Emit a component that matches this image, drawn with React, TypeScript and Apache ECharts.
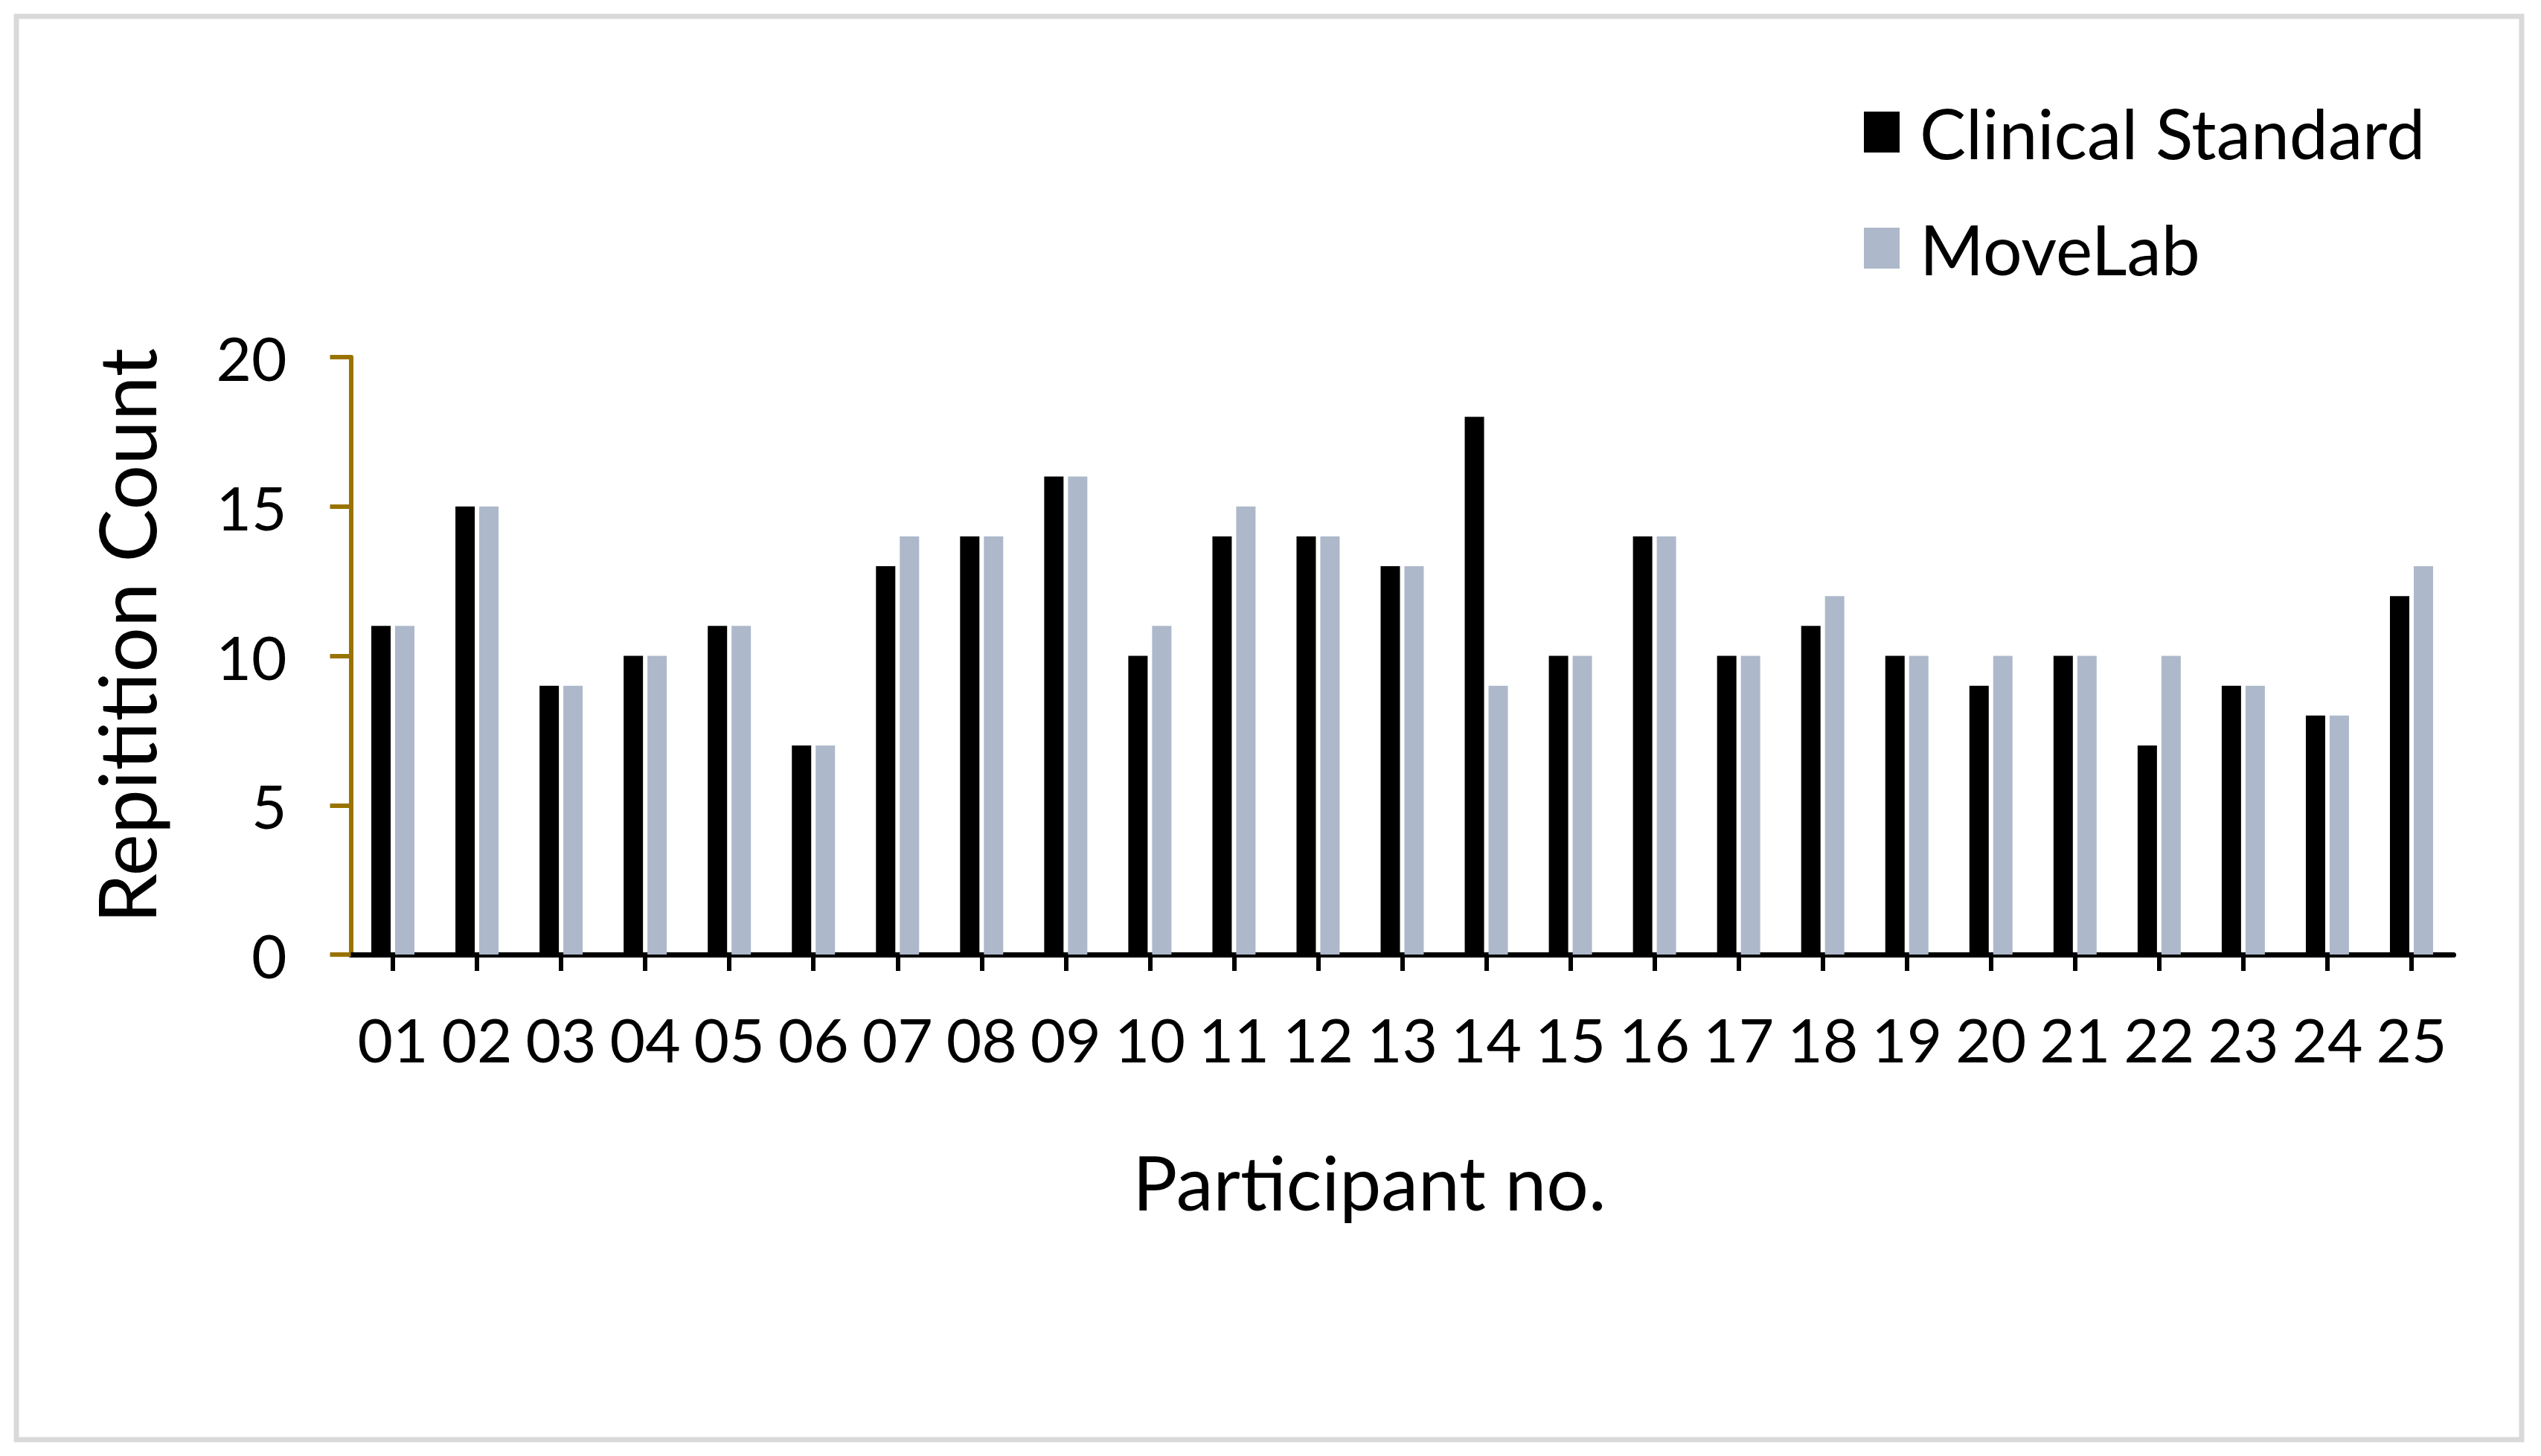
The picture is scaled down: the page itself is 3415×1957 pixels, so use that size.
import React, { useEffect, useRef } from "react";
import * as echarts from "echarts";

const participants = ["01","02","03","04","05","06","07","08","09","10","11","12","13","14","15","16","17","18","19","20","21","22","23","24","25"];
const clinicalStandard = [11,15,9,10,11,7,13,14,16,10,14,14,13,18,10,14,10,11,10,9,10,7,9,8,12];
const moveLab = [11,15,9,10,11,7,14,14,16,11,15,14,13,9,10,14,10,12,10,10,10,10,9,8,13];
const seriesNames = ["Clinical Standard", "MoveLab"];
const yMin = 0;
const yMax = 20;
const yInterval = 5;

const FONT = "Lato";

export default function App() {
  const ref = useRef<HTMLDivElement>(null);
  useEffect(() => {
    if (!ref.current) return;
    const chart = echarts.init(ref.current, undefined, { renderer: "svg" });
    chart.setOption({
      animation: false,
      backgroundColor: "#ffffff",
      textStyle: { fontFamily: FONT },
      graphic: [
        {
          type: "rect",
          shape: { x: 22, y: 22, width: 3367, height: 1913 },
          style: { fill: "none", stroke: "#D9D9D9", lineWidth: 7 },
          silent: true,
        },
      ],
      legend: {
        orient: "vertical",
        left: 2500,
        top: 126,
        icon: "rect",
        itemWidth: 48,
        itemHeight: 55,
        itemGap: 63,
        textStyle: {
          fontFamily: FONT,
          fontSize: 93,
          color: "#000000",
          lineHeight: 55,
          padding: [0, 0, 0, 22],
        },
        data: seriesNames,
      },
      grid: {
        left: 471.5,
        top: 480,
        width: 2826,
        height: 803,
        containLabel: false,
      },
      xAxis: {
        type: "category",
        data: participants,
        name: "Participant no.",
        nameLocation: "middle",
        nameGap: 255,
        nameTextStyle: {
          fontFamily: FONT,
          fontSize: 100,
          color: "#000000",
          padding: [0, 88, 0, 0],
        },
        axisLine: { show: true, lineStyle: { color: "#000000", width: 7 } },
        axisTick: {
          show: true,
          alignWithLabel: true,
          length: 22,
          lineStyle: { color: "#000000", width: 6 },
        },
        axisLabel: {
          interval: 0,
          margin: 72,
          fontFamily: FONT,
          fontSize: 82,
          color: "#000000",
        },
        splitLine: { show: false },
      },
      yAxis: {
        type: "value",
        min: yMin,
        max: yMax,
        interval: yInterval,
        name: "Repitition Count",
        nameLocation: "middle",
        nameGap: 250,
        nameTextStyle: {
          fontFamily: FONT,
          fontSize: 107,
          color: "#000000",
          padding: [0, 0, 0, 54],
        },
        axisLine: { show: true, lineStyle: { color: "#997300", width: 6 } },
        axisTick: {
          show: true,
          length: 28,
          lineStyle: { color: "#997300", width: 6 },
        },
        axisLabel: {
          margin: 86,
          fontFamily: FONT,
          fontSize: 82,
          color: "#000000",
        },
        splitLine: { show: false },
      },
      series: [
        {
          name: seriesNames[0],
          type: "bar",
          data: clinicalStandard,
          barWidth: 26,
          barGap: "23%",
          itemStyle: { color: "#000000" },
        },
        {
          name: seriesNames[1],
          type: "bar",
          data: moveLab,
          barWidth: 26,
          barGap: "23%",
          itemStyle: { color: "#ADB9CA" },
        },
      ],
    });
    return () => chart.dispose();
  }, []);
  return (
    <div
      ref={ref}
      style={{ position: "fixed", left: 0, top: 0, width: 3415, height: 1957 }}
    />
  );
}
